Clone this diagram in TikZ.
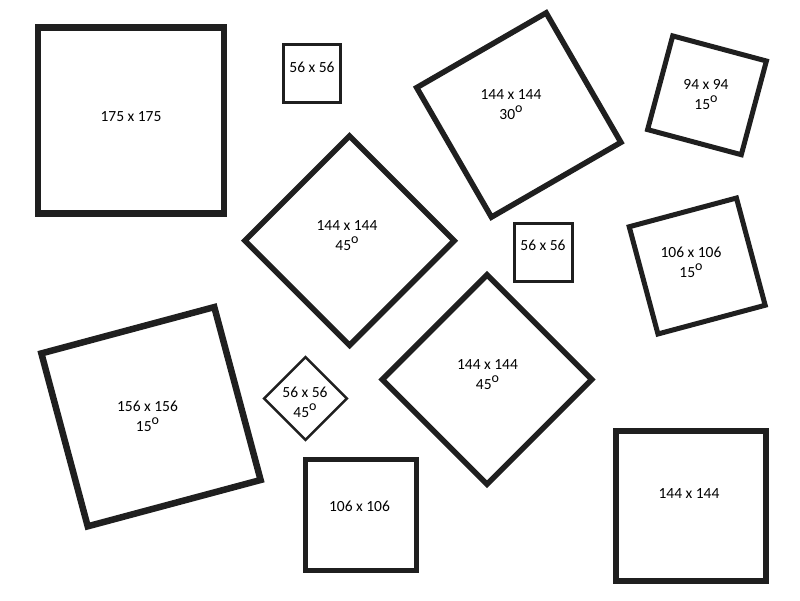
\documentclass[tikz,border=0pt]{standalone}
\usepackage{fontspec}
\setmainfont{Carlito}
\newcommand{\degsup}{\raisebox{7pt}{\fontsize{14}{14}\selectfont o}}

\begin{document}
\begin{tikzpicture}[x=1pt, y=-1pt,
  frame/.style={draw=black!88, inner sep=0pt, minimum size=#1},
  lbl/.style={align=center, inner sep=0pt, font=\fontsize{15.5}{20}\selectfont}]
\useasboundingbox (0,0) rectangle (800,600);
\node  (1)[frame=186, line width=6.5pt]             at (131,120.5)   {};
\node  (2)[frame=57.5, line width=3pt]              at (312,73.5)    {};
\node  (3)[frame=148, line width=5.5pt, rotate=45]  at (349.5,240.7) {};
\node  (4)[frame=149.5, line width=5.5pt, rotate=30] at (518.8,115)  {};
\node  (5)[frame=97, line width=5pt, rotate=-15]    at (707,95.3)    {};
\node  (6)[frame=58, line width=3pt]                at (543,252.8)   {};
\node  (7)[frame=111, line width=5pt, rotate=15]    at (697.2,266)   {};
\node  (8)[frame=179, line width=6.5pt, rotate=15]  at (151,416.7)   {};
\node  (9)[frame=58.5, line width=2.5pt, rotate=45] at (305.5,398.5) {};
\node (10)[frame=111, line width=5pt]               at (360.5,515.3) {};
\node (11)[frame=148, line width=5.5pt, rotate=45]  at (487,379.5)   {};
\node (12)[frame=150, line width=6pt]               at (691,506)     {};
\node  (t1)[lbl] at (131,117)     {175 x 175};
\node  (t2)[lbl] at (312,67)      {56 x 56};
\node  (t3)[lbl] at (347,235.5)   {144 x 144\\45\degsup};
\node  (t4)[lbl] at (511,104.5)   {144 x 144\\30\degsup};
\node  (t5)[lbl] at (706,94.5)    {94 x 94\\15\degsup};
\node  (t6)[lbl] at (543,245)     {56 x 56};
\node  (t7)[lbl] at (691,262)     {106 x 106\\15\degsup};
\node  (t8)[lbl] at (147.5,416)   {156 x 156\\15\degsup};
\node  (t9)[lbl] at (305,402.5)   {56 x 56\\45\degsup};
\node (t10)[lbl] at (359.5,506.5) {106 x 106};
\node (t11)[lbl] at (487.5,374.5) {144 x 144\\45\degsup};
\node (t12)[lbl] at (689,494)     {144 x 144};
\end{tikzpicture}
\end{document}
